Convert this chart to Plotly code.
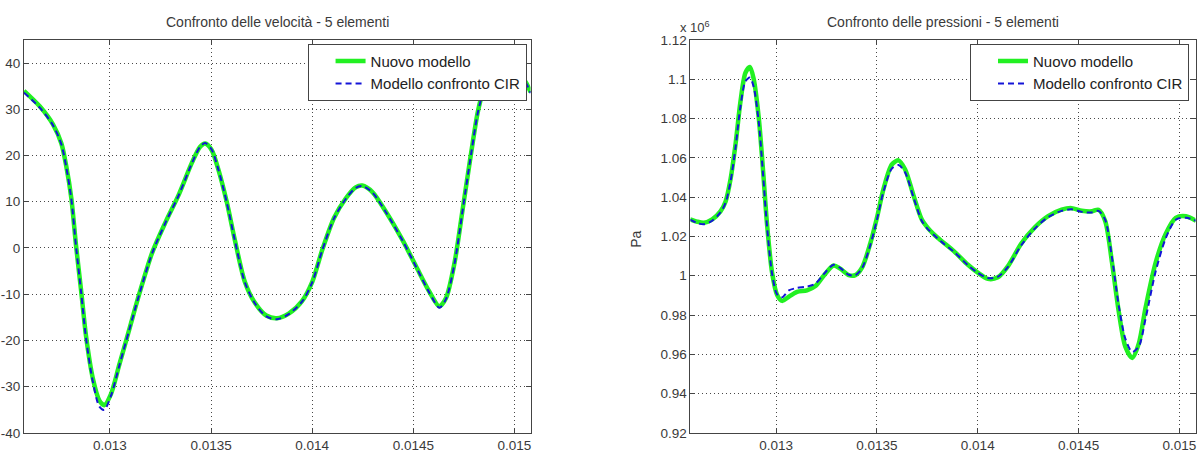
import plotly.graph_objects as go

# ---------------- data ----------------
t_vel = [0.012575, 0.012654, 0.012719, 0.01276, 0.012784, 0.012809, 0.012833, 0.012858, 0.012882,
         0.012915, 0.012948, 0.012972, 0.013005, 0.013046, 0.013095, 0.013144, 0.013209, 0.013275,
         0.01334, 0.013405, 0.013446, 0.013471, 0.013503, 0.013536, 0.013577, 0.013618, 0.013667,
         0.013716, 0.013773, 0.013826, 0.013884, 0.01395, 0.014, 0.01405, 0.014108, 0.014166,
         0.014215, 0.014248, 0.014298, 0.014364, 0.014447, 0.014513, 0.014579, 0.014629, 0.014662,
         0.014704, 0.014745, 0.014786, 0.014819, 0.014844, 0.01488, 0.01494, 0.015, 0.015048, 0.01508]
vel_new = [34.0, 30.6, 26.7, 22.6, 17.7, 10.8, 0.3, -9.4, -19.1,
           -28.1, -33.0, -34.0, -31.6, -25.3, -17.7, -10.1, -1.0, 5.6,
           11.5, 18.4, 21.9, 22.6, 21.2, 17.0, 10.1, 1.7, -7.3,
           -11.8, -14.6, -15.2, -14.2, -11.5, -7.4, -0.4, 6.5, 10.7,
           13.1, 13.5, 12.1, 7.9, 1.7, -3.9, -9.4, -12.6, -10.8,
           -3.2, 8.6, 20.5, 29.4, 33.6, 36.8, 38.2, 37.8, 36.4, 33.7]
vel_cir = [33.6, 30.3, 26.5, 22.4, 17.5, 10.6, 0.1, -9.7, -19.6,
           -28.8, -34.3, -35.0, -32.0, -25.5, -17.8, -10.2, -1.1, 5.5,
           11.4, 18.3, 21.9, 22.7, 21.3, 17.0, 10.0, 1.6, -7.4,
           -11.9, -14.8, -15.4, -14.3, -11.6, -7.5, -0.5, 6.4, 10.6,
           13.0, 13.4, 12.0, 7.8, 1.6, -4.0, -9.6, -12.9, -11.0,
           -3.4, 8.4, 20.3, 29.2, 33.4, 36.6, 38.0, 37.7, 36.3, 33.5]

t_pre = [0.012573, 0.012609, 0.012642, 0.012683, 0.012724, 0.012749, 0.012774, 0.012799, 0.012823,
         0.012848, 0.01287, 0.012889, 0.012914, 0.012936, 0.012955, 0.01298, 0.013005, 0.01303,
         0.013063, 0.013104, 0.013153, 0.013195, 0.013236, 0.013285, 0.013318, 0.01336, 0.013393,
         0.013426, 0.013467, 0.0135, 0.013533, 0.013574, 0.013607, 0.01364, 0.013681, 0.013722,
         0.01375, 0.01378, 0.013817, 0.013884, 0.01395, 0.014, 0.01405, 0.0141, 0.01415,
         0.014216, 0.014283, 0.014349, 0.014416, 0.014466, 0.014516, 0.014566, 0.014599, 0.014632,
         0.014666, 0.014699, 0.014732, 0.014766, 0.014799, 0.014832, 0.014882, 0.014932, 0.014982,
         0.015033, 0.015083]
pre_new = [1.0287, 1.0275, 1.0270, 1.0287, 1.0328, 1.0377, 1.0492, 1.0672, 1.0885,
           1.1033, 1.1062, 1.1000, 1.0803, 1.0525, 1.0262, 1.0016, 0.9902, 0.9872,
           0.9893, 0.9918, 0.9926, 0.9948, 1.0000, 1.0052, 1.0036, 1.0003, 1.0003,
           1.0041, 1.0164, 1.0295, 1.0443, 1.0566, 1.0587, 1.0541, 1.0410, 1.0287,
           1.0246, 1.0213, 1.0180, 1.0123, 1.0057, 1.0016, 0.9984, 0.9992, 1.0049,
           1.0164, 1.0246, 1.0303, 1.0336, 1.0344, 1.0331, 1.0328, 1.0336, 1.0279,
           1.0066, 0.9820, 0.9639, 0.9582, 0.9656, 0.9836, 1.0066, 1.0213, 1.0295,
           1.0303, 1.0279]
pre_cir = [1.0285, 1.0268, 1.0262, 1.0280, 1.0322, 1.0370, 1.0480, 1.0655, 1.0860,
           1.0990, 1.1008, 1.0960, 1.0780, 1.0505, 1.0250, 1.0010, 0.9905, 0.9890,
           0.9925, 0.9938, 0.9945, 0.9960, 1.0008, 1.0056, 1.0040, 1.0005, 1.0003,
           1.0038, 1.0155, 1.0285, 1.0430, 1.0545, 1.0563, 1.0525, 1.0400, 1.0280,
           1.0240, 1.0210, 1.0175, 1.0120, 1.0055, 1.0015, 0.9988, 0.9995, 1.0045,
           1.0155, 1.0240, 1.0298, 1.0330, 1.0338, 1.0325, 1.0322, 1.0330, 1.0285,
           1.0090, 0.9850, 0.9680, 0.9612, 0.9640, 0.9780, 1.0020, 1.0190, 1.0285,
           1.0295, 1.0280]

x_ticks = [0.013, 0.0135, 0.014, 0.0145, 0.015]
x_labels = ["0.013", "0.0135", "0.014", "0.0145", "0.015"]
vel_ticks = [-40, -30, -20, -10, 0, 10, 20, 30, 40]
vel_labels = ["-40", "-30", "-20", "-10", "0", "10", "20", "30", "40"]
pre_ticks = [0.92, 0.94, 0.96, 0.98, 1.0, 1.02, 1.04, 1.06, 1.08, 1.1, 1.12]
pre_labels = ["0.92", "0.94", "0.96", "0.98", "1", "1.02", "1.04", "1.06", "1.08", "1.1", "1.12"]

series_names = ["Nuovo modello", "Modello confronto CIR"]
titles = ["Confronto delle velocità - 5 elementi", "Confronto delle pressioni - 5 elementi"]

# ---------------- figure ----------------
W, H = 1202, 470
GREEN = "#22f022"
BLUE = "#1414d8"
FONT = "Liberation Sans"
TXT = "#3a3a3a"

fig = go.Figure()

fig.add_trace(go.Scatter(x=t_vel, y=vel_new, name=series_names[0], mode="lines",
                         line=dict(color=GREEN, width=4.5, shape="spline", smoothing=0.8),
                         xaxis="x", yaxis="y", legend="legend"))
fig.add_trace(go.Scatter(x=t_vel, y=vel_cir, name=series_names[1], mode="lines",
                         line=dict(color=BLUE, width=2, dash="6px,4px", shape="spline", smoothing=0.8),
                         xaxis="x", yaxis="y", legend="legend"))
fig.add_trace(go.Scatter(x=t_pre, y=pre_new, name=series_names[0], mode="lines",
                         line=dict(color=GREEN, width=4.5, shape="spline", smoothing=0.8),
                         xaxis="x2", yaxis="y2", legend="legend2"))
fig.add_trace(go.Scatter(x=t_pre, y=pre_cir, name=series_names[1], mode="lines",
                         line=dict(color=BLUE, width=2, dash="6px,4px", shape="spline", smoothing=0.8),
                         xaxis="x2", yaxis="y2", legend="legend2"))

ydom = [(H - 440) / H, (H - 34) / H]
xdom1 = [24 / W, 531 / W]
xdom2 = [691 / W, 1196.5 / W]
xrange_ = [0.012575, 0.01508]

axis_common = dict(showline=True, linecolor="#444444", linewidth=1, mirror="ticks",
                   ticks="inside", ticklen=5, tickcolor="#444444",
                   showgrid=True, gridcolor="rgba(40,40,40,0.85)", gridwidth=1, griddash="1px,3px",
                   zeroline=False, tickfont=dict(family=FONT, size=13.5, color=TXT))

legend_common = dict(yanchor="top", xanchor="right", bgcolor="white", bordercolor="#444444", borderwidth=1,
                     font=dict(family=FONT, size=15, color="#222222"), indentation=22, tracegroupgap=0)

fig.update_layout(
    width=W, height=H,
    margin=dict(l=0, r=0, t=0, b=0),
    paper_bgcolor="white", plot_bgcolor="white",
    xaxis=dict(domain=xdom1, anchor="y", range=xrange_, tickvals=x_ticks, ticktext=x_labels, **axis_common),
    yaxis=dict(domain=ydom, anchor="x", range=[-40, 45], tickvals=vel_ticks, ticktext=vel_labels, **axis_common),
    xaxis2=dict(domain=xdom2, anchor="y2", range=xrange_, tickvals=x_ticks, ticktext=x_labels, **axis_common),
    yaxis2=dict(domain=ydom, anchor="x2", range=[0.92, 1.12], tickvals=pre_ticks, ticktext=pre_labels, **axis_common),
    legend=dict(x=527 / W, y=(H - 38) / H, **legend_common),
    legend2=dict(x=1190 / W, y=(H - 38) / H, **legend_common),
    annotations=[
        dict(text=titles[0], x=(24 + 531) / 2 / W, y=(H - 15) / H, xref="paper", yref="paper",
             xanchor="center", yanchor="middle", showarrow=False,
             font=dict(family=FONT, size=14, color=TXT)),
        dict(text=titles[1], x=(691 + 1196) / 2 / W, y=(H - 15) / H, xref="paper", yref="paper",
             xanchor="center", yanchor="middle", showarrow=False,
             font=dict(family=FONT, size=14, color=TXT)),
        dict(text="x 10<sup>6</sup>", x=679 / W, y=(H - 31) / H, xref="paper", yref="paper",
             xanchor="left", yanchor="bottom", showarrow=False,
             font=dict(family=FONT, size=13, color=TXT)),
        dict(text="Pa", x=637 / W, y=(H - 240) / H, xref="paper", yref="paper",
             xanchor="center", yanchor="middle", showarrow=False, textangle=-90,
             font=dict(family=FONT, size=14, color=TXT)),
    ],
)

fig.write_html("out.html")
